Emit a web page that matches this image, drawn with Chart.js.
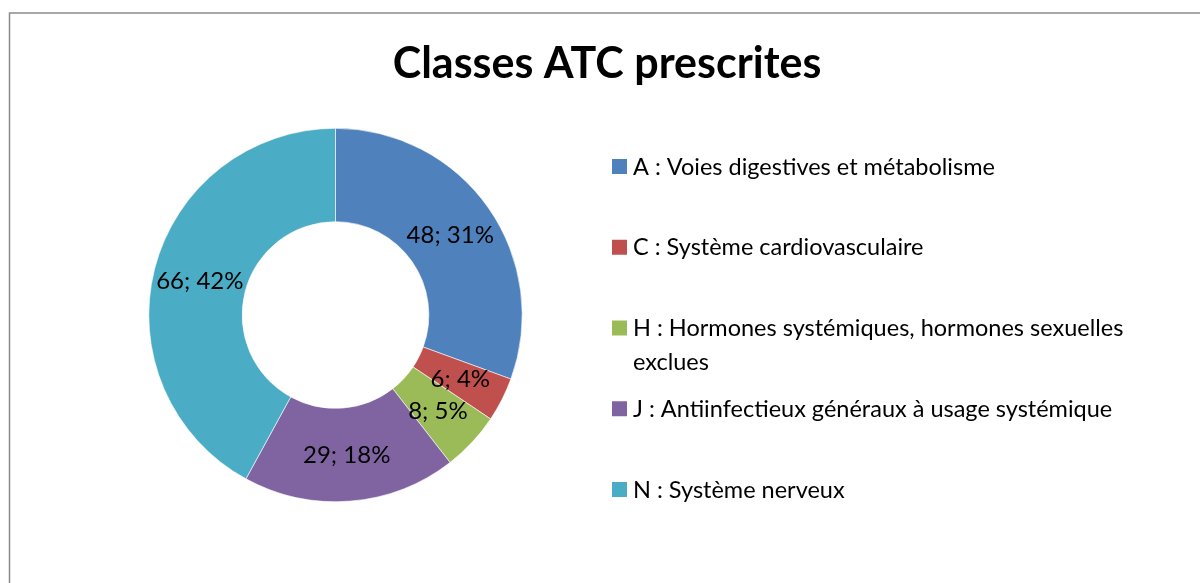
<!DOCTYPE html>
<html>
<head>
<meta charset="utf-8">
<script src="https://cdn.jsdelivr.net/npm/chart.js@4.4.1/dist/chart.umd.min.js"></script>
<style>
  html, body { margin: 0; padding: 0; background: #ffffff; }
  #wrap { position: relative; width: 1200px; height: 583px; }
</style>
</head>
<body>
<div id="wrap"><canvas id="c" width="1200" height="583"></canvas></div>
<script>
// ---- data ----
const title = 'Classes ATC prescrites';
const categories = [
  ['A : Voies digestives et métabolisme'],
  ['C : Système cardiovasculaire'],
  ['H : Hormones systémiques, hormones sexuelles', 'exclues'],
  ['J : Antiinfectieux généraux à usage systémique'],
  ['N : Système nerveux']
];
const counts = [48, 6, 8, 29, 66];
const percentLabels = ['31%', '4%', '5%', '18%', '42%'];
const colors = ['#4F81BD', '#C0504D', '#9BBB59', '#8064A2', '#4BACC6'];

const FONT = 'Lato, "Open Sans", sans-serif';

const framePlugin = {
  id: 'frame',
  beforeDraw(chart) {
    const ctx = chart.ctx;
    ctx.save();
    ctx.fillStyle = '#ffffff';
    ctx.fillRect(0, 0, chart.width, chart.height);
    ctx.strokeStyle = '#8a8a8a';
    ctx.lineWidth = 1.5;
    ctx.strokeRect(9.5, 13, 1400, 800);
    ctx.restore();
  }
};

const decorPlugin = {
  id: 'decor',
  afterDraw(chart) {
    const ctx = chart.ctx;
    ctx.save();
    // title
    ctx.fillStyle = '#000000';
    ctx.font = 'bold 43px ' + FONT;
    ctx.textAlign = 'center';
    ctx.textBaseline = 'alphabetic';
    ctx.fillText(title, 607, 78);

    // data labels at arc centers
    const meta = chart.getDatasetMeta(0);
    ctx.font = '24px ' + FONT;
    ctx.textBaseline = 'middle';
    ctx.textAlign = 'center';
    meta.data.forEach((arc, i) => {
      const p = arc.tooltipPosition();
      ctx.fillText(counts[i] + '; ' + percentLabels[i], p.x, p.y + 1);
    });

    // legend
    const x0 = 612, textX = 633, top = 166, step = 80.75, lineH = 34;
    ctx.font = '23.5px ' + FONT;
    ctx.textAlign = 'left';
    categories.forEach((lines, i) => {
      const y = top + i * step;
      ctx.fillStyle = colors[i];
      ctx.fillRect(x0, y - 7, 15, 15);
      ctx.fillStyle = '#000000';
      lines.forEach((ln, j) => ctx.fillText(ln, textX, y + j * lineH + 1));
    });
    ctx.restore();
  }
};

new Chart(document.getElementById('c'), {
  type: 'doughnut',
  data: {
    labels: categories.map(l => l.join(' ')),
    datasets: [{
      data: counts,
      backgroundColor: colors,
      borderColor: '#ffffff',
      borderWidth: 0.6,
      hoverOffset: 0
    }]
  },
  options: {
    responsive: false,
    animation: false,
    cutout: '50%',
    layout: { padding: { left: 148.5, right: 677.5, top: 128, bottom: 81 } },
    plugins: {
      legend: { display: false },
      title: { display: false },
      tooltip: { enabled: false }
    }
  },
  plugins: [framePlugin, decorPlugin]
});
</script>
</body>
</html>
